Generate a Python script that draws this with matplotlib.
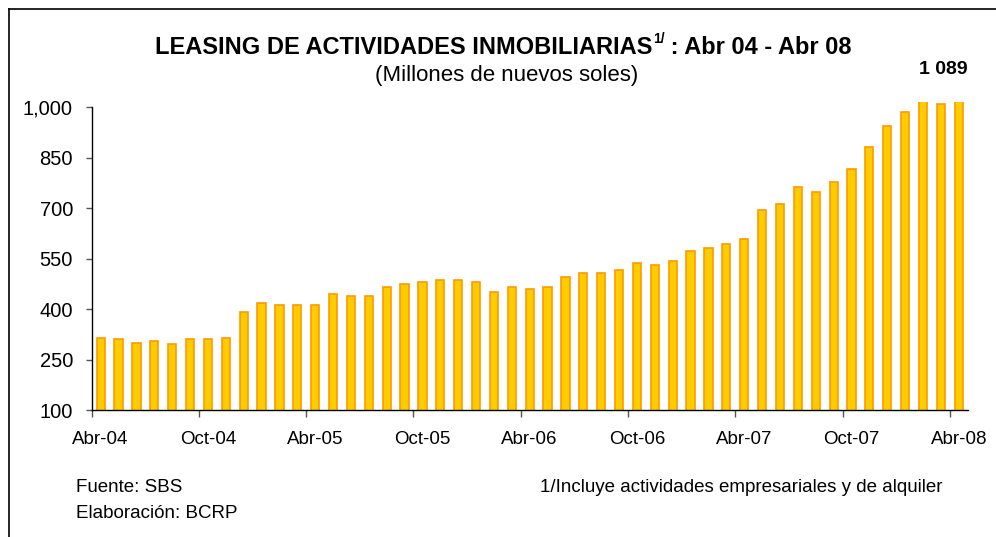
import matplotlib
matplotlib.use("Agg")
import matplotlib.pyplot as plt
from matplotlib.lines import Line2D
import numpy as np

plt.rcParams['font.family'] = ['Liberation Sans', 'DejaVu Sans']

# ---- data ----
months = ["Abr-04", "May-04", "Jun-04", "Jul-04", "Ago-04", "Set-04",
          "Oct-04", "Nov-04", "Dic-04", "Ene-05", "Feb-05", "Mar-05",
          "Abr-05", "May-05", "Jun-05", "Jul-05", "Ago-05", "Set-05",
          "Oct-05", "Nov-05", "Dic-05", "Ene-06", "Feb-06", "Mar-06",
          "Abr-06", "May-06", "Jun-06", "Jul-06", "Ago-06", "Set-06",
          "Oct-06", "Nov-06", "Dic-06", "Ene-07", "Feb-07", "Mar-07",
          "Abr-07", "May-07", "Jun-07", "Jul-07", "Ago-07", "Set-07",
          "Oct-07", "Nov-07", "Dic-07", "Ene-08", "Feb-08", "Mar-08",
          "Abr-08"]
values = [315, 312, 300, 306, 295, 311, 311, 315, 392, 419, 413, 413,
          413, 444, 439, 439, 464, 475, 480, 485, 485, 480, 450, 464,
          459, 464, 495, 506, 506, 516, 537, 532, 542, 573, 582, 594,
          609, 695, 711, 762, 748, 778, 815, 880, 943, 984, 1030, 1010,
          1089]
tick_labels = ["Abr-04", "Oct-04", "Abr-05", "Oct-05", "Abr-06",
               "Oct-06", "Abr-07", "Oct-07", "Abr-08"]
y_ticks = [100, 250, 400, 550, 700, 850, 1000]
y_tick_labels = ["100", "250", "400", "550", "700", "850", "1,000"]
last_label = "1 089"

W, H = 996, 537
fig = plt.figure(figsize=(W / 100, H / 100), dpi=100)
ax = fig.add_axes([91.7 / W, 1 - 410 / H, 876 / W, (410 - 102.3) / H])

x = np.arange(len(values))
ax.bar(x, values, width=0.46, color="#FFCC00", edgecolor="#FF9900",
       linewidth=1.2, zorder=2)

ax.set_xlim(-0.5, len(values) - 0.5)
ax.set_ylim(100, 1014)

for s in ["top", "right"]:
    ax.spines[s].set_visible(False)
ax.spines["left"].set_bounds(100, 1000)
ax.spines["left"].set_linewidth(1.0)
ax.spines["bottom"].set_linewidth(1.0)

ax.set_yticks(y_ticks)
ax.set_yticklabels(y_tick_labels, fontsize=14.5)
ax.tick_params(axis="y", direction="out", length=4.5, width=1,
               color="#555555", pad=9)

# major ticks at category boundaries every 6 months, labels on category centers
lab_pos = [months.index(t) for t in tick_labels]
ax.set_xticks([p - 0.5 for p in lab_pos])
ax.set_xticklabels([""] * len(lab_pos))
ax.set_xticks(lab_pos, minor=True)
ax.set_xticklabels(tick_labels, minor=True, fontsize=13.5)
ax.tick_params(axis="x", which="major", direction="out", length=5, width=1,
               color="#555555")
ax.tick_params(axis="x", which="minor", length=0, pad=15)

# titles
renderer = fig.canvas.get_renderer()
part1 = "LEASING DE ACTIVIDADES INMOBILIARIAS"
sup = "1/"
part2 = " : Abr 04 - Abr 08"
ty = 1 - 47 / H
t1 = fig.text(0, ty, part1, fontsize=17, fontweight="bold", va="center", ha="left")
t2 = fig.text(0, ty + 8 / H, sup, fontsize=10, fontweight="bold", va="center", ha="left")
t3 = fig.text(0, ty, part2, fontsize=17, fontweight="bold", va="center", ha="left")
w1 = t1.get_window_extent(renderer).width
w2 = t2.get_window_extent(renderer).width
w3 = t3.get_window_extent(renderer).width
total = w1 + w2 + w3
x0 = 503 - total / 2
t1.set_x(x0 / W)
t2.set_x((x0 + w1 + 1) / W)
t3.set_x((x0 + w1 + w2) / W)

fig.text(507 / W, 1 - 76 / H, "(Millones de nuevos soles)", fontsize=16,
         ha="center", va="center")
fig.text(968 / W, 1 - 70 / H, last_label, fontsize=14, fontweight="bold",
         ha="right", va="center")

# footer
fig.text(76 / W, 1 - 487 / H, "Fuente: SBS", fontsize=13.5, ha="left", va="center")
fig.text(76 / W, 1 - 514 / H, "Elaboración: BCRP", fontsize=13.5, ha="left", va="center")
fig.text(540 / W, 1 - 487 / H, "1/Incluye actividades empresariales y de alquiler",
         fontsize=13.5, ha="left", va="center")

# chart-area border (top and left edges visible)
fig.add_artist(Line2D([8.5 / W, 8.5 / W], [0, 1 - 9 / H], transform=fig.transFigure,
                      color="black", linewidth=1.2))
fig.add_artist(Line2D([8.5 / W, 1], [1 - 9 / H, 1 - 9 / H], transform=fig.transFigure,
                      color="black", linewidth=1.2))

fig.savefig("out.png", dpi=100)
